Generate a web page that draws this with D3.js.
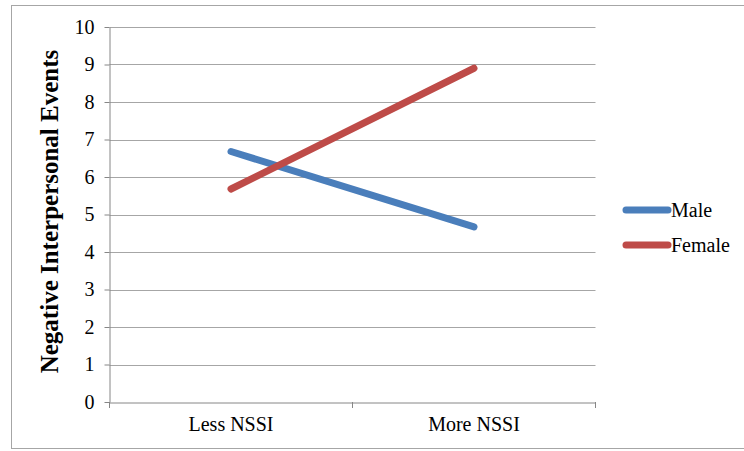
<!DOCTYPE html>
<html><head><meta charset="utf-8">
<script src="https://cdn.jsdelivr.net/npm/d3@7"></script>
<style>body{margin:0;background:#fff}svg{display:block}</style>
</head><body><svg id="c" width="744" height="451"></svg>
<script>
const categories = ["Less NSSI", "More NSSI"];
const male = [6.68, 4.67];
const female = [5.68, 8.9];
const yTicks = [0,1,2,3,4,5,6,7,8,9,10];
const seriesNames = ["Male", "Female"];
const colors = ["#4A7EBB", "#BE4B48"];

const svg = d3.select("#c");
const font = "'Liberation Serif','Times New Roman',serif";
svg.append("rect").attr("x",11.5).attr("y",5.5).attr("width",740).attr("height",443)
  .attr("fill","#fff").attr("stroke","#A6A6A6").attr("stroke-width",1);

const x0 = 109.5, x1 = 595.5, yTop = 27, yBot = 402;
const y = d3.scaleLinear().domain([0,10]).range([yBot,yTop]);
const x = d3.scaleBand().domain(categories).range([x0,x1]);

// gridlines
svg.append("g").selectAll("line").data(yTicks.filter(d=>d>0)).join("line")
  .attr("x1",x0).attr("x2",x1).attr("y1",d=>Math.round(y(d))+0.5).attr("y2",d=>Math.round(y(d))+0.5)
  .attr("stroke","#A6A6A6").attr("stroke-width",1);

// y axis
const ya = svg.append("g").attr("transform",`translate(${x0},0)`)
  .call(d3.axisLeft(y).tickValues(yTicks).tickSize(5).tickPadding(10).tickSizeOuter(0));
ya.select(".domain").attr("stroke","#868686");
ya.selectAll(".tick line").attr("stroke","#868686");
ya.selectAll(".tick text").attr("font-family",font).attr("font-size",20).attr("fill","#000");

// x axis
const xa = svg.append("g").attr("transform",`translate(0,${yBot+0.5})`)
  .call(d3.axisBottom(x).tickSize(0).tickPadding(14).tickSizeOuter(0));
xa.select(".domain").attr("stroke","#868686");
xa.selectAll(".tick text").attr("font-family",font).attr("font-size",20).attr("fill","#000");
// category boundary ticks
const bounds = [x0, x0 + x.bandwidth(), x1];
svg.append("g").selectAll("line").data(bounds).join("line")
  .attr("x1",d=>d).attr("x2",d=>d).attr("y1",yBot).attr("y2",yBot+6)
  .attr("stroke","#868686");

// lines
const line = d3.line().x((d,i)=>x(categories[i])+x.bandwidth()/2).y(d=>y(d));
[male,female].forEach((s,i)=>{
  svg.append("path").datum(s).attr("d",line).attr("fill","none")
    .attr("stroke",colors[i]).attr("stroke-width",7).attr("stroke-linecap","round");
});

// y label
svg.append("text").attr("transform",`translate(58,${(yTop+yBot)/2-3}) rotate(-90)`)
  .attr("text-anchor","middle").attr("font-family",font).attr("font-weight","bold")
  .attr("font-size",25).text("Negative Interpersonal Events");

// legend
const lg = svg.append("g");
seriesNames.forEach((n,i)=>{
  const yy = 210 + i*35;
  lg.append("line").attr("x1",626).attr("x2",668).attr("y1",yy).attr("y2",yy)
    .attr("stroke",colors[i]).attr("stroke-width",7).attr("stroke-linecap","round");
  lg.append("text").attr("x",671).attr("y",yy+7).attr("font-family",font)
    .attr("font-size",20).text(n);
});
</script></body></html>
